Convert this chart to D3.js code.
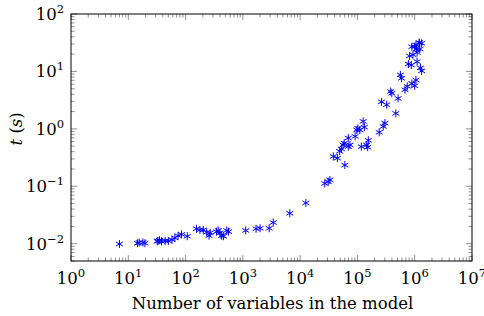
<!DOCTYPE html>
<html lang="en">
<head>
<meta charset="utf-8">
<title>Runtime vs variables</title>
<script src="https://d3js.org/d3.v7.min.js"></script>
<style>
  body { margin: 0; background: #fff; }
  text { font-family: "DejaVu Serif", serif; fill: #000; }
</style>
</head>
<body>
<script>
// number of variables (x) and solve time in seconds (y)
var nVars = [
  7, 14.5, 15.5, 18, 19.5,
  32, 33, 35, 38, 44, 50, 58,
  65, 74, 85, 107,
  155, 178, 204, 234, 257,
  269, 347, 372, 398, 427, 457, 525, 562,
  1120, 1700, 2000, 2880, 3390,
  6600, 12600,
  26900, 30900, 33100, 38000,
  44700, 49000, 52500, 56200, 58900, 69200, 74100, 60300, 69200, 91200,
  97700, 102000, 110000, 126000, 132000,
  117000, 145000, 155000, 151000,
  240000, 282000, 302000,
  263000, 324000, 380000, 398000, 513000, 468000,
  562000, 589000, 676000, 741000, 891000, 1000000, 1050000,
  776000, 871000, 813000,
  933000, 1000000, 1070000, 1200000, 1320000, 1050000, 1200000, 1100000, 891000,
  1230000, 1100000, 1260000, 1320000
];
var times = [
  0.0099, 0.0102, 0.0105, 0.0105, 0.0102,
  0.011, 0.0112, 0.0115, 0.011, 0.0112, 0.0112, 0.0117,
  0.0126, 0.0138, 0.0145, 0.0135,
  0.0182, 0.0174, 0.0174, 0.0158, 0.0138,
  0.0155, 0.0162, 0.017, 0.0155, 0.0138, 0.0135, 0.017, 0.0162,
  0.017, 0.0182, 0.0186, 0.0186, 0.0234,
  0.0339, 0.0513,
  0.112, 0.12, 0.129, 0.331,
  0.309, 0.407, 0.447, 0.525, 0.562, 0.49, 0.525, 0.234, 0.692, 0.741,
  0.955, 1.02, 0.955, 1.35, 1.07,
  0.49, 0.525, 0.631, 0.479,
  0.871, 1.1, 1.26,
  2.95, 2.63, 4.47, 4.17, 3.39, 1.86,
  8.71, 7.59, 4.79, 5.5, 6.17, 5.62, 7.08,
  13.5, 12.9, 18.6,
  19.5, 26.9, 24.5, 31.6, 30.9, 28.8, 31.6, 21.4, 26.9,
  24.5, 14.8, 11.5, 10.2
];
var xTicks = [1, 10, 100, 1e3, 1e4, 1e5, 1e6, 1e7];
var yTicks = [1e-2, 1e-1, 1, 10, 100];

var w = 484, h = 316;
var margin = {top: 14, right: 12, bottom: 55, left: 71};
var iw = w - margin.left - margin.right;
var ih = h - margin.top - margin.bottom;

var svg = d3.select("body").append("svg")
  .attr("width", w)
  .attr("height", h);

var x = d3.scaleLog().domain([1, 1e7]).range([0, iw]);
var y = d3.scaleLog().domain([5e-3, 100]).range([ih, 0]);

var g = svg.append("g")
  .attr("transform", "translate(" + margin.left + "," + margin.top + ")");

// minor tick positions for the log axes
function minors(lo, hi) {
  var out = [];
  for (var e = lo; e < hi; e++) {
    for (var k = 2; k <= 9; k++) out.push(k * Math.pow(10, e));
  }
  return out;
}
var xMinor = minors(0, 7);
var yMinor = minors(-3, 2).filter(function(v) { return v >= 5e-3; });

var tickCol = "#444";
var ticks = g.append("g").attr("stroke", tickCol).attr("stroke-width", 0.6);

// x ticks bottom and top (inside)
[[ih, -1], [0, 1]].forEach(function(s) {
  ticks.selectAll(null).data(xTicks).enter().append("line")
    .attr("x1", function(d) { return x(d); }).attr("x2", function(d) { return x(d); })
    .attr("y1", s[0]).attr("y2", s[0] + s[1] * 6);
  ticks.selectAll(null).data(xMinor).enter().append("line")
    .attr("x1", function(d) { return x(d); }).attr("x2", function(d) { return x(d); })
    .attr("y1", s[0]).attr("y2", s[0] + s[1] * 3.5);
});
// y ticks left and right (inside)
[[0, 1], [iw, -1]].forEach(function(s) {
  ticks.selectAll(null).data(yTicks).enter().append("line")
    .attr("y1", function(d) { return y(d); }).attr("y2", function(d) { return y(d); })
    .attr("x1", s[0]).attr("x2", s[0] + s[1] * 6);
  ticks.selectAll(null).data(yMinor).enter().append("line")
    .attr("y1", function(d) { return y(d); }).attr("y2", function(d) { return y(d); })
    .attr("x1", s[0]).attr("x2", s[0] + s[1] * 3.5);
});

// frame
g.append("rect")
  .attr("width", iw).attr("height", ih)
  .attr("fill", "none").attr("stroke", "#000").attr("stroke-width", 1);

// tick labels with superscript exponents
function powLabel(sel, d) {
  var e = Math.round(Math.log10(d));
  sel.append("tspan").text("10");
  sel.append("tspan").attr("dy", -7).attr("font-size", 11.5)
    .text(e < 0 ? "\u2212" + (-e) : e);
}
g.selectAll(".xl").data(xTicks).enter().append("text")
  .attr("class", "xl")
  .attr("x", function(d) { return x(d); })
  .attr("y", ih + 23)
  .attr("text-anchor", "middle")
  .attr("font-size", 16.5)
  .each(function(d) { powLabel(d3.select(this), d); });

g.selectAll(".yl").data(yTicks).enter().append("text")
  .attr("class", "yl")
  .attr("x", -7)
  .attr("y", function(d) { return y(d) + 6; })
  .attr("text-anchor", "end")
  .attr("font-size", 16.5)
  .each(function(d) { powLabel(d3.select(this), d); });

// axis titles
svg.append("text")
  .attr("x", margin.left + iw / 2 + 1)
  .attr("y", 309)
  .attr("text-anchor", "middle")
  .attr("font-size", 16.5)
  .text("Number of variables in the model");

var yt = svg.append("text")
  .attr("transform", "translate(22," + (margin.top + y(1)) + ") rotate(-90)")
  .attr("text-anchor", "middle")
  .attr("font-size", 16.5);
yt.append("tspan").attr("font-style", "italic").text("t");
yt.append("tspan").text(" (");
yt.append("tspan").attr("font-style", "italic").text("s");
yt.append("tspan").text(")");

// asterisk markers
var pts = d3.range(nVars.length);
var r = 4;
var mk = g.append("g").attr("stroke", "#0000ff").attr("stroke-width", 1).attr("fill", "none");
mk.selectAll("path").data(pts).enter().append("path")
  .attr("transform", function(i) { return "translate(" + x(nVars[i]) + "," + y(times[i]) + ")"; })
  .attr("d", function() {
    var s = "";
    [90, 30, -30].forEach(function(a) {
      var c = Math.cos(a * Math.PI / 180) * r, sn = Math.sin(a * Math.PI / 180) * r;
      s += "M" + (-c) + "," + (-sn) + "L" + c + "," + sn;
    });
    return s;
  });
</script>
</body>
</html>
